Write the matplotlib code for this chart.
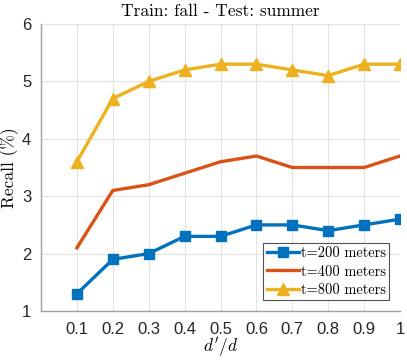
import matplotlib
matplotlib.use("Agg")
import matplotlib.pyplot as plt

plt.rcParams['mathtext.fontset'] = 'cm'
plt.rcParams['axes.unicode_minus'] = False

x = [0.1, 0.2, 0.3, 0.4, 0.5, 0.6, 0.7, 0.8, 0.9, 1.0]
t200 = [1.3, 1.9, 2.0, 2.3, 2.3, 2.5, 2.5, 2.4, 2.5, 2.6]
t400 = [2.1, 3.1, 3.2, 3.4, 3.6, 3.7, 3.5, 3.5, 3.5, 3.7]
t800 = [3.6, 4.7, 5.0, 5.2, 5.3, 5.3, 5.2, 5.1, 5.3, 5.3]
xticks = [0.1, 0.2, 0.3, 0.4, 0.5, 0.6, 0.7, 0.8, 0.9, 1]
xticklabels = ['0.1', '0.2', '0.3', '0.4', '0.5', '0.6', '0.7', '0.8', '0.9', '1']
yticks = [1, 2, 3, 4, 5, 6]

fig = plt.figure(figsize=(4.07, 3.6), dpi=100)
ax = fig.add_axes([41/407, 1-311/360, 359/407, 287/360])

ax.plot(x, t200, color='#0072BD', lw=2.4, marker='s', ms=6.5, label='t=200 meters')
ax.plot(x, t400, color='#D95319', lw=2.4, label='t=400 meters')
ax.plot(x, t800, color='#EDB120', lw=2.4, marker='^', ms=8.5, label='t=800 meters')

ax.set_xlim(0, 1)
ax.set_ylim(1, 6)
ax.set_xticks(xticks)
ax.set_xticklabels(xticklabels, family='Liberation Sans', fontsize=12)
ax.set_yticks(yticks)
ax.set_yticklabels([str(v) for v in yticks], family='Liberation Sans', fontsize=12)
ax.grid(True, color='#e3e3e3', lw=0.8)
ax.set_axisbelow(True)
for s in ['top', 'right']:
    ax.spines[s].set_visible(False)
for s in ['left', 'bottom']:
    ax.spines[s].set_color('#a0a0a0')
    ax.spines[s].set_linewidth(1.0)
ax.tick_params(axis='y', length=0, pad=7, colors='#262626')
ax.tick_params(axis='x', length=0, pad=8, colors='#262626')

ax.set_title('Train: fall - Test: summer', family='cmr10', fontsize=12.5, pad=6)
ax.set_xlabel(r"$d'/d$", fontsize=12.5, labelpad=-1)
ax.set_ylabel('Recall (%)', family='cmr10', fontsize=12.5, labelpad=2)

leg = ax.legend(loc='lower right', prop={'family': 'cmr10', 'size': 10.4}, frameon=True, fancybox=False,
                handlelength=2.2, handletextpad=0.12, borderpad=0.25, labelspacing=0.3,
                borderaxespad=0.75)
leg.get_frame().set_edgecolor('#262626')
leg.get_frame().set_linewidth(0.8)

fig.savefig('out.png', dpi=100)
